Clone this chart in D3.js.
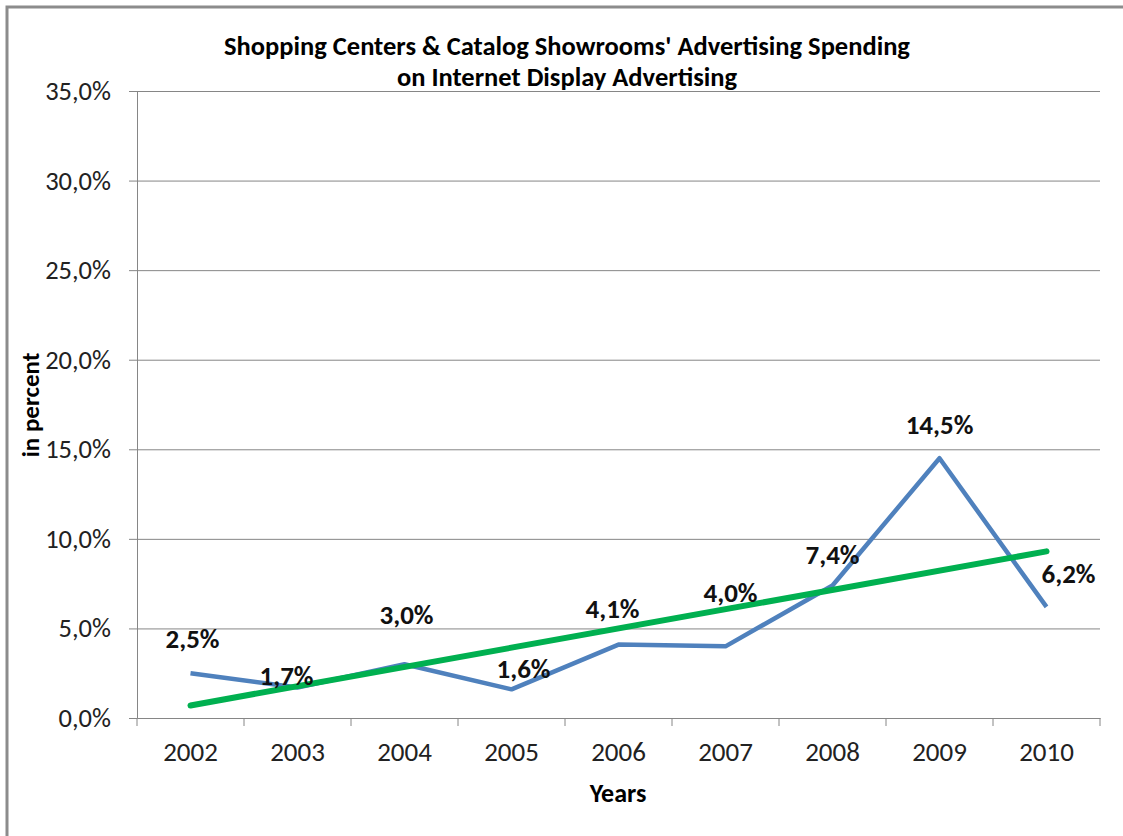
<!DOCTYPE html>
<html>
<head>
<meta charset="utf-8">
<script src="https://cdn.jsdelivr.net/npm/d3@7"></script>
<style>
  body { margin: 0; background: #fff; }
  text { font-family: Carlito, Calibri, Lato, sans-serif; }
</style>
</head>
<body>
<div id="chart"></div>
<script>
// data
const years = ["2002", "2003", "2004", "2005", "2006", "2007", "2008", "2009", "2010"];
const spending = [2.5, 1.7, 3.0, 1.6, 4.1, 4.0, 7.4, 14.5, 6.2];
const trendEnds = [0.7, 9.3];          // linear trend at 2002 and 2010
const yTicks = [0, 5, 10, 15, 20, 25, 30, 35];
const titleLines = ["Shopping Centers & Catalog Showrooms' Advertising Spending", "on Internet Display Advertising"];

// hand placed label nudges (as in the excel sheet)
const labelNudge = [[2, -35], [-11, -12], [2, -50], [12, -21], [-6, -36], [5, -54], [0, -31], [0, -34], [22, -33]];

const W = 1123, H = 836;
const margin = {left: 137, right: 23, top: 91, bottom: 118};

const svg = d3.select("#chart").append("svg")
    .attr("width", W)
    .attr("height", H);

// frame (only top + left visible in the crop)
svg.append("path")
    .attr("d", `M7,${H} L7,7 L${W},7`)
    .attr("fill", "none")
    .attr("stroke", "#8c8c8c")
    .attr("stroke-width", 3);

const x = d3.scaleBand()
    .domain(years)
    .range([margin.left, W - margin.right]);

const y = d3.scaleLinear()
    .domain([0, 35])
    .range([H - margin.bottom, margin.top]);

const fmt = v => d3.format(".1f")(v).replace(".", ",") + "%";

// gridlines + y axis
const yAxis = svg.append("g")
    .attr("transform", `translate(${margin.left},0)`)
    .call(d3.axisLeft(y).tickValues(yTicks).tickFormat(fmt).tickSize(8).tickPadding(18));
yAxis.select(".domain").attr("stroke", "#868686");
yAxis.selectAll(".tick line").attr("stroke", "#868686");
yAxis.selectAll(".tick text").style("font-size", "26.5px").attr("fill", "#222");
yAxis.selectAll(".tick").filter(d => d > 0).append("line")
    .attr("x1", 0)
    .attr("x2", W - margin.right - margin.left)
    .attr("stroke", "#868686");

// x axis
const xAxis = svg.append("g")
    .attr("transform", `translate(0,${y(0)})`)
    .call(d3.axisBottom(x).tickSize(0).tickPadding(24));
xAxis.select(".domain").attr("stroke", "#868686");
xAxis.selectAll(".tick text").style("font-size", "27px").attr("fill", "#222");
// tick marks sit between categories
const bounds = years.map(d => x(d)).concat([x.range()[1]]);
svg.append("g").selectAll("line")
    .data(bounds)
    .join("line")
    .attr("x1", d => d).attr("x2", d => d)
    .attr("y1", y(0)).attr("y2", y(0) + 8)
    .attr("stroke", "#868686");

const cx = d => x(d) + x.bandwidth() / 2;

// blue series
const line = d3.line()
    .x((d, i) => cx(years[i]))
    .y(d => y(d));
svg.append("path")
    .datum(spending)
    .attr("d", line)
    .attr("fill", "none")
    .attr("stroke", "#4f81bd")
    .attr("stroke-width", 4.5)
    .attr("stroke-linejoin", "round");

// trend line
svg.append("line")
    .attr("x1", cx(years[0]))
    .attr("y1", y(trendEnds[0]))
    .attr("x2", cx(years[years.length - 1]))
    .attr("y2", y(trendEnds[1]))
    .attr("stroke", "#00b050")
    .attr("stroke-width", 6)
    .attr("stroke-linecap", "round");

// data labels
svg.append("g").selectAll("text")
    .data(spending)
    .join("text")
    .attr("x", (d, i) => cx(years[i]) + labelNudge[i][0])
    .attr("y", (d, i) => y(d) + labelNudge[i][1])
    .attr("dy", "0.35em")
    .attr("text-anchor", "middle")
    .style("font-size", "27px")
    .style("font-weight", "bold")
    .attr("fill", "#111")
    .text(fmt);

// title
svg.append("text")
    .attr("x", 567)
    .attr("y", 46)
    .attr("text-anchor", "middle")
    .style("font-size", "26.5px")
    .style("font-weight", "bold")
    .selectAll("tspan")
    .data(titleLines)
    .join("tspan")
    .attr("x", 567)
    .attr("dy", (d, i) => i === 0 ? "0.35em" : "31px")
    .text(d => d);

// axis titles
svg.append("text")
    .attr("transform", "translate(30,405) rotate(-90)")
    .attr("text-anchor", "middle")
    .attr("dy", "0.35em")
    .style("font-size", "25px")
    .style("font-weight", "bold")
    .text("in percent");

svg.append("text")
    .attr("x", 618)
    .attr("y", 793)
    .attr("dy", "0.35em")
    .attr("text-anchor", "middle")
    .style("font-size", "26px")
    .style("font-weight", "bold")
    .text("Years");
</script>
</body>
</html>
